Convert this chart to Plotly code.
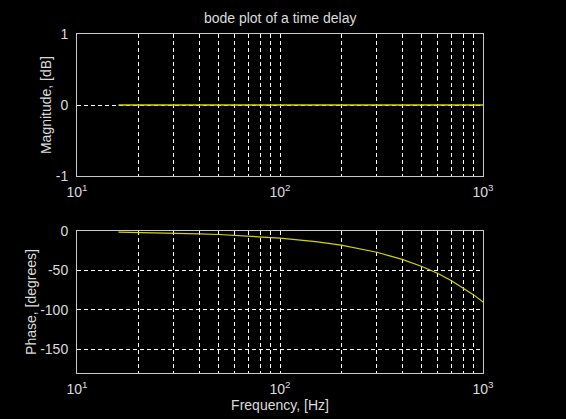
import plotly.graph_objects as go
from plotly.subplots import make_subplots

freq_hz = [16, 20, 30, 40, 50, 70, 100, 150, 200, 300, 400, 500, 600, 700, 800, 900, 1000]
magnitude_db = [0, 0, 0, 0, 0, 0, 0, 0, 0, 0, 0, 0, 0, 0, 0, 0, 0]
phase_deg = [-1.4, -1.8, -2.7, -3.6, -4.5, -6.3, -9, -13.5, -18, -27, -36, -45, -54, -63, -72, -81, -90]

grid_freqs = [10, 20, 30, 40, 50, 60, 70, 80, 90, 100, 200, 300, 400, 500, 600, 700, 800, 900, 1000]
grid_text = ["10<sup>1</sup>", "", "", "", "", "", "", "", "", "10<sup>2</sup>", "", "", "", "", "", "", "", "", "10<sup>3</sup>"]
mag_ticks = [-1, 0, 1]
mag_text = ["-1", "0", "1"]
phase_ticks = [-150, -100, -50, 0]
phase_text = ["-150", "-100", "-50", "0"]

FONT = "Liberation Sans, Arial, sans-serif"
TXT = "#dcdcdc"
LINE = "#d4d400"

fig = make_subplots(rows=2, cols=1, vertical_spacing=0.162)
fig.add_trace(go.Scatter(x=freq_hz, y=magnitude_db, mode="lines",
                         line=dict(color=LINE, width=1.5), showlegend=False), row=1, col=1)
fig.add_trace(go.Scatter(x=freq_hz, y=phase_deg, mode="lines",
                         line=dict(color=LINE, width=1.2), showlegend=False), row=2, col=1)

xcommon = dict(type="log", range=[1, 3], tickvals=grid_freqs, ticktext=grid_text,
               showgrid=True, gridcolor="#ffffff", griddash="4px,3px", gridwidth=1,
               showline=True, linecolor="#c8c8c8", linewidth=1, mirror=True,
               ticks="", zeroline=False, ticklabelstandoff=3,
               tickfont=dict(family=FONT, size=14, color=TXT))
fig.update_xaxes(**xcommon, row=1, col=1)
fig.update_xaxes(**xcommon, row=2, col=1,
                 title=dict(text="Frequency, [Hz]", font=dict(family=FONT, size=14, color=TXT), standoff=3))

ycommon = dict(showgrid=True, gridcolor="#ffffff", griddash="4px,3px", gridwidth=1,
               showline=True, linecolor="#c8c8c8", linewidth=1, mirror=True,
               ticks="", zeroline=False, ticklabelstandoff=5,
               tickfont=dict(family=FONT, size=14, color=TXT))
fig.update_yaxes(**ycommon, row=1, col=1, range=[-1, 1], tickvals=mag_ticks, ticktext=mag_text,
                 title=dict(text="Magnitude, [dB]", font=dict(family=FONT, size=14, color=TXT), standoff=0))
fig.update_yaxes(**ycommon, row=2, col=1, range=[-180, 0], tickvals=phase_ticks, ticktext=phase_text,
                 title=dict(text="Phase, [degrees]", font=dict(family=FONT, size=14, color=TXT), standoff=0))

fig.update_layout(
    width=566, height=419,
    paper_bgcolor="#000000", plot_bgcolor="#000000",
    margin=dict(l=77, r=83, t=34, b=46, autoexpand=False),
    title=dict(text="bode plot of a time delay", x=0.495, xanchor="center", y=0.957, yanchor="middle",
               font=dict(family=FONT, size=14, color=TXT)),
)
fig.write_html("out.html", config={"displayModeBar": False},
               post_script="document.body.style.margin='0';document.body.style.background='#000';")
